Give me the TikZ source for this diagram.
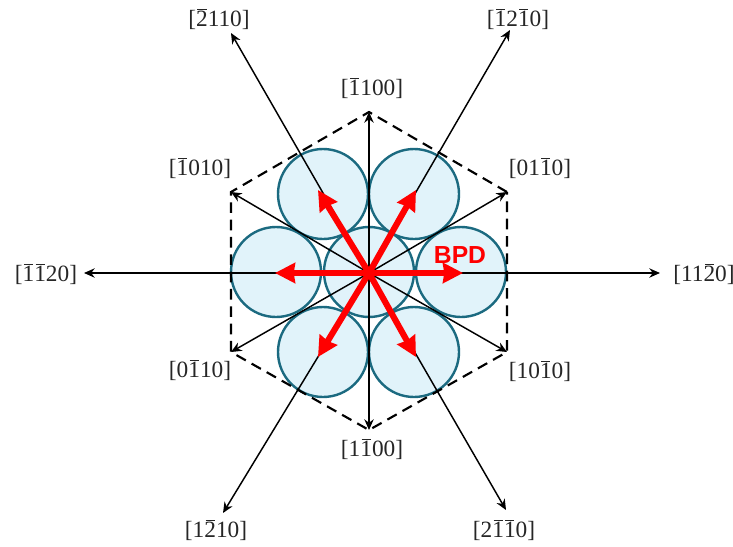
\documentclass[tikz,border=0pt]{standalone}
\usepackage{fontspec}
\setmainfont{DejaVu Serif}
\newfontfamily\lab{Liberation Serif}
\newfontfamily\bpdfont{Liberation Sans}
\usetikzlibrary{arrows.meta}
\definecolor{cfill}{HTML}{E1F3FA}
\definecolor{cline}{HTML}{1B6A80}
\definecolor{cred}{HTML}{FF0000}
\newcommand{\ob}[1]{\leavevmode\hbox{\kern0.9pt\vbox{\offinterlineskip\hrule height 0.6pt\kern 1pt\hbox{\kern-0.9pt #1\kern-0.9pt}}\kern0.9pt}}
\tikzset{
  x=0.75pt,y=-0.75pt,
  atom/.style={circle,draw=cline,fill=cfill,line width=1.8pt,minimum size=67.5pt,inner sep=0pt},
  dir/.style={font=\lab\fontsize{17.5}{20}\selectfont,inner sep=0pt,text=black!85},
  axis/.style={draw=black,line width=1.1pt,-{Stealth[length=8pt,width=7pt]}},
  hexa/.style={draw=black,line width=1.6pt,dash pattern=on 8pt off 5pt},
  bpd/.style={draw=cred,line width=4.6pt,-{Stealth[length=15pt,width=15pt,inset=1pt]}},
  pt/.style={inner sep=0pt,minimum size=0pt}
}
\begin{document}
\begin{tikzpicture}
\useasboundingbox (0,0) rectangle (733,547);
% atoms
\node[atom] (c) at (369,272) {};
\node[atom] (a1) at (461,272) {};
\node[atom] (a2) at (414,194) {};
\node[atom] (a3) at (323,194) {};
\node[atom] (a4) at (276,272) {};
\node[atom] (a5) at (323,352) {};
\node[atom] (a6) at (414,352) {};
% hexagon corners
\coordinate (h1) at (507,192);
\coordinate (h2) at (369,112);
\coordinate (h3) at (231,192);
\coordinate (h4) at (231,352);
\coordinate (h5) at (369,430);
\coordinate (h6) at (507,352);
\draw[hexa] (h1) -- (h2) -- (h3) -- (h4) -- (h5) -- (h6) -- cycle;
% axes
\coordinate (o) at (369,273);
\foreach \t in {h1,h2,h3,h4,h5,h6} \draw[axis] (o) -- (\t);
\coordinate (l1) at (660,273);
\coordinate (l2) at (510,30);
\coordinate (l3) at (231,33);
\coordinate (l4) at (84,273);
\coordinate (l5) at (223,513);
\coordinate (l6) at (506,510);
\foreach \t in {l1,l2,l3,l4,l5,l6} \draw[axis] (o) -- (\t);
% red vectors
\coordinate (r1) at (463,273);
\coordinate (r2) at (416,190);
\coordinate (r3) at (318,190);
\coordinate (r4) at (275,273);
\coordinate (r5) at (318,357);
\coordinate (r6) at (416,357);
\foreach \t in {r1,r2,r3,r4,r5,r6} \draw[bpd] (o) -- (\t);
\node[font=\bpdfont\bfseries\fontsize{18.5}{22}\selectfont,text=cred,inner sep=0pt] (bpdlabel) at (460,255) {BPD};
% labels
\node[dir] (d1) at (372,88) {[\ob{1}100]};
\node[dir] (d2) at (219,19) {[\ob{2}110]};
\node[dir] (d3) at (518,19) {[\ob{1}2\ob{1}0]};
\node[dir] (d4) at (200,168) {[\ob{1}010]};
\node[dir] (d5) at (540,168) {[01\ob{1}0]};
\node[dir] (d6) at (46,274) {[\ob{1}\ob{1}20]};
\node[dir] (d7) at (704,274) {[11\ob{2}0]};
\node[dir] (d8) at (200,370) {[0\ob{1}10]};
\node[dir] (d9) at (540,371) {[10\ob{1}0]};
\node[dir] (d10) at (372,449) {[1\ob{1}00]};
\node[dir] (d11) at (216,530) {[1\ob{2}10]};
\node[dir] (d12) at (504,530) {[2\ob{1}\ob{1}0]};
\end{tikzpicture}
\end{document}
